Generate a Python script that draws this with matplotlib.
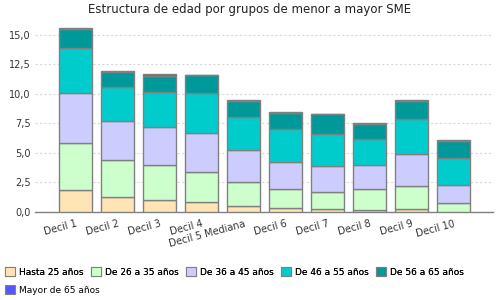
import matplotlib
matplotlib.use("Agg")
import matplotlib.pyplot as plt
import numpy as np
from matplotlib.patches import Patch
from matplotlib.ticker import FuncFormatter, MultipleLocator

categories = ["Decil 1", "Decil 2", "Decil 3", "Decil 4", "Decil 5 Mediana",
              "Decil 6", "Decil 7", "Decil 8", "Decil 9", "Decil 10"]
series_names = ["Hasta 25 años", "De 26 a 35 años", "De 36 a 45 años",
                "De 46 a 55 años", "De 56 a 65 años", "Mayor de 65 años"]
hasta25 = [1.86, 1.27, 1.02, 0.85, 0.47, 0.34, 0.25, 0.17, 0.25, 0.0]
de26_35 = [3.99, 3.13, 2.96, 2.54, 2.07, 1.61, 1.44, 1.78, 1.95, 0.76]
de36_45 = [4.23, 3.31, 3.22, 3.27, 2.71, 2.29, 2.21, 2.03, 2.72, 1.53]
de46_55 = [3.78, 2.88, 2.97, 3.42, 2.80, 2.79, 2.71, 2.21, 2.96, 2.29]
de56_65 = [1.64, 1.27, 1.36, 1.52, 1.35, 1.36, 1.66, 1.27, 1.53, 1.44]
mayor65 = [0.10, 0.10, 0.10, 0.00, 0.10, 0.08, 0.00, 0.09, 0.09, 0.08]
colors = ["#FFE4B5", "#CCFFCC", "#CCCCFF", "#00CCCC", "#009999", "#5555FF"]

series = [hasta25, de26_35, de36_45, de46_55, de56_65, mayor65]

fig = plt.figure(figsize=(5, 3), dpi=100)
ax = fig.add_axes([0.07, 0.2933, 0.916, 0.6267])

x = np.arange(len(categories))
bottom = np.zeros(len(categories))
for vals, col in zip(series, colors):
    v = np.array(vals)
    ax.bar(x, v, bottom=bottom, width=0.78, color=col, edgecolor="#808080",
           linewidth=1.0, zorder=3)
    bottom += v

ax.set_xlim(-0.96, 9.94)
ax.set_ylim(0, 15.9)
ax.yaxis.set_major_locator(MultipleLocator(2.5))
ax.yaxis.set_major_formatter(FuncFormatter(lambda v, p: f"{v:.1f}".replace(".", ",")))
ax.grid(axis="y", color="#D8D8D8", linestyle=(0, (2, 2)), linewidth=0.8, zorder=0)
for s in ["top", "right", "left"]:
    ax.spines[s].set_visible(False)
ax.spines["bottom"].set_color("#808080")
ax.spines["bottom"].set_linewidth(1.0)
ax.tick_params(axis="y", length=0, labelsize=7, pad=3, labelcolor="#333333")
ax.tick_params(axis="x", length=0, labelsize=7, pad=5, labelcolor="#333333")
ax.set_xticks(x)
ax.set_xticklabels(categories, rotation=15, ha="right", rotation_mode="anchor")

fig.text(0.5, 0.967, "Estructura de edad por grupos de menor a mayor SME",
         ha="center", va="center", fontsize=8.5, color="#222222")

handles = [Patch(facecolor=c, edgecolor="#808080", linewidth=0.8) for c in colors]
common = dict(frameon=False, fontsize=6.5, handlelength=1.1, handleheight=1.1,
              handletextpad=0.45, borderaxespad=0, borderpad=0)
leg1 = fig.legend(handles[:5], series_names[:5], ncol=5, loc="center left",
                  bbox_to_anchor=(0.01, 0.093), columnspacing=0.8, **common)
fig.legend(handles[5:], series_names[5:], ncol=1, loc="center left",
           bbox_to_anchor=(0.01, 0.033), **common)
fig.add_artist(leg1)

fig.savefig("out.png", dpi=100)
